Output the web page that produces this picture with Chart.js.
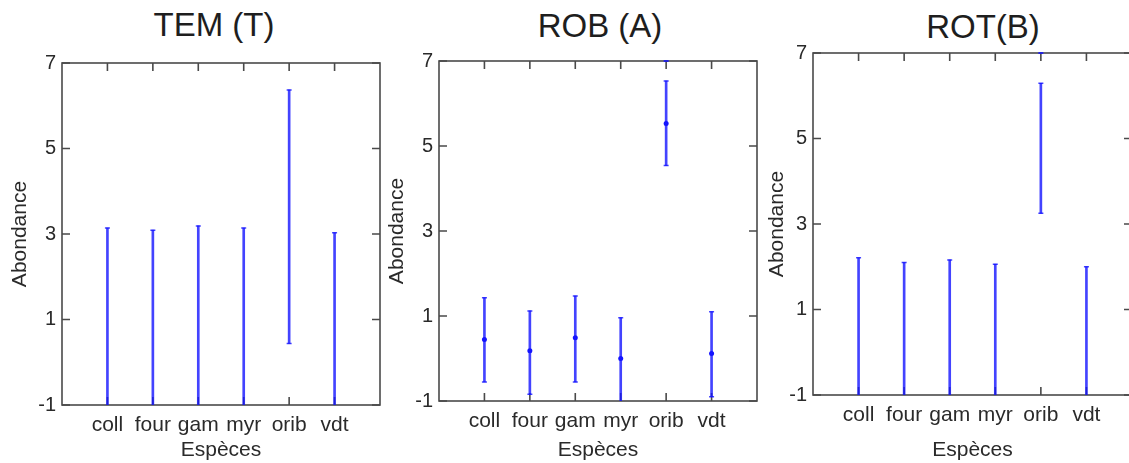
<!DOCTYPE html>
<html>
<head>
<meta charset="utf-8">
<script src="https://cdn.jsdelivr.net/npm/chart.js@4/dist/chart.umd.min.js"></script>
<style>
  html, body { margin: 0; padding: 0; background: #fff; overflow: hidden; }
  body { width: 1129px; height: 463px; position: relative; }
  canvas { position: absolute; top: 0; }
  .ttl { position: absolute; width: 300px; text-align: center; font: 33px "Liberation Sans", Arial, sans-serif;
         line-height: 33px; color: #1e1e1e; white-space: nowrap; }
</style>
</head>
<body>
<div class="ttl" style="left:64px;top:8px">TEM (T)</div>
<div class="ttl" style="left:450px;top:9px">ROB (A)</div>
<div class="ttl" style="left:833px;top:10px">ROT(B)</div>
<canvas id="c1" width="388" height="463" style="left:0px"></canvas>
<canvas id="c2" width="383" height="463" style="left:382px"></canvas>
<canvas id="c3" width="380" height="463" style="left:765px"></canvas>
<script>
// species on the x axis
const categories = ['coll', 'four', 'gam', 'myr', 'orib', 'vdt'];
const yTicks = [-1, 1, 3, 5, 7];

// TEM (T) : error bar ends
const temLow  = [-1, -1, -1, -1, 0.44, -1];
const temHigh = [3.14, 3.09, 3.19, 3.14, 6.37, 3.03];

// ROB (A) : means and error bar ends
const robMean = [0.45, 0.18, 0.49, 0.0, 5.53, 0.12];
const robLow  = [-0.55, -0.84, -0.55, -1, 4.54, -0.9];
const robHigh = [1.43, 1.12, 1.47, 0.96, 6.53, 1.10];
const robTop  = [null, null, null, null, 7, null];

// ROT (B)
const rotLow  = [-1, -1, -1, -1, 3.25, -1];
const rotHigh = [2.21, 2.10, 2.16, 2.06, 6.29, 2.00];
const rotTop  = [null, null, null, null, 7, null];

const FONT = '"Liberation Sans", Arial, sans-serif';
const TXT = '#2a2a2a';
const AXIS = '#4a4a4a';
const BLUE = 'rgba(20,20,255,0.8)';
const TICK = 8;

// empty slots at both ends so the species sit at 1..6 on a 0..7 axis
const labels = [''].concat(categories, ['']);
const pad = arr => [null].concat(arr, [null]);

// MATLAB style box with inward ticks on all four sides
const frameTicks = {
  id: 'frameTicks',
  beforeDatasetsDraw(chart) {
    const { ctx, chartArea: a, scales: { x, y } } = chart;
    ctx.save();
    ctx.strokeStyle = AXIS;
    ctx.lineWidth = 1.6;
    ctx.strokeRect(a.left, a.top, a.right - a.left, a.bottom - a.top);
    ctx.beginPath();
    x.ticks.forEach((t, i) => {
      if (!labels[t.value]) return;
      const px = x.getPixelForTick(i);
      ctx.moveTo(px, a.bottom); ctx.lineTo(px, a.bottom - TICK);
      ctx.moveTo(px, a.top); ctx.lineTo(px, a.top + TICK);
    });
    y.ticks.forEach((t, i) => {
      const py = y.getPixelForTick(i);
      ctx.moveTo(a.left, py); ctx.lineTo(a.left + TICK, py);
      ctx.moveTo(a.right, py); ctx.lineTo(a.right - TICK, py);
    });
    ctx.stroke();
    ctx.restore();
  }
};

function capPoints(low, high) {
  const pts = [];
  categories.forEach((c, i) => {
    if (high[i] != null) pts.push({ x: c, y: high[i] });
    if (low[i] != null && low[i] > yTicks[0]) pts.push({ x: c, y: low[i] });
  });
  return pts;
}

function makeChart(id, p) {
  const datasets = [
    {
      type: 'bar',
      data: pad(p.low.map((l, i) => [l, p.high[i]])),
      backgroundColor: BLUE,
      borderWidth: 0,
      barThickness: 2,
      grouped: false
    },
    {
      type: 'line',
      data: capPoints(p.low, p.high),
      showLine: false,
      pointStyle: 'line',
      pointRadius: 2.5,
      pointBorderWidth: 1.5,
      pointBorderColor: BLUE
    }
  ];
  if (p.mean) {
    datasets.push({
      type: 'line',
      data: pad(p.mean),
      showLine: false,
      pointStyle: 'circle',
      pointRadius: 2.5,
      pointBorderWidth: 0,
      pointBackgroundColor: 'rgb(20,20,255)'
    });
  }
  if (p.top) {
    datasets.push({
      type: 'line',
      data: pad(p.top),
      showLine: false,
      clip: false,
      pointStyle: 'line',
      pointRadius: 2.5,
      pointBorderWidth: 2,
      pointBorderColor: BLUE
    });
  }
  return new Chart(document.getElementById(id), {
    data: { labels: labels, datasets: datasets },
    options: {
      responsive: false,
      animation: false,
      devicePixelRatio: 1,
      layout: { padding: { top: p.top0, right: p.padRight, left: 0, bottom: 0 } },
      plugins: { legend: { display: false }, tooltip: { enabled: false } },
      scales: {
        x: {
          type: 'category',
          offset: false,
          grid: { display: false, drawTicks: false },
          border: { display: false },
          afterFit: s => { s.height = 463 - p.bottom; },
          ticks: { autoSkip: false, maxRotation: 0, padding: p.xPad, color: TXT, font: { family: FONT, size: 21 } },
          title: { display: true, text: 'Espèces', color: TXT, padding: { top: 0, bottom: 0 }, font: { family: FONT, size: 21 } }
        },
        y: {
          min: yTicks[0],
          max: yTicks[yTicks.length - 1],
          grid: { display: false, drawTicks: false },
          border: { display: false },
          afterFit: s => { s.width = p.yWidth; },
          ticks: { stepSize: 2, padding: 6, color: TXT, font: { family: FONT, size: 20 } },
          title: { display: true, text: 'Abondance', color: TXT, padding: { top: p.yTitlePad, bottom: 0 }, font: { family: FONT, size: 21 } }
        }
      }
    },
    plugins: [frameTicks]
  });
}

makeChart('c1', { low: temLow, high: temHigh, top0: 63, bottom: 405, yWidth: 62, padRight: 0, xPad: 8, yTitlePad: 8, });
makeChart('c2', { low: robLow, high: robHigh, mean: robMean, top: robTop, top0: 61, bottom: 401, yWidth: 57, padRight: 0, xPad: 8, yTitlePad: 3 });
makeChart('c3', { low: rotLow, high: rotHigh, top: rotTop, top0: 53, bottom: 395, yWidth: 48, padRight: 13, xPad: 8, yTitlePad: 0 });
</script>
</body>
</html>
